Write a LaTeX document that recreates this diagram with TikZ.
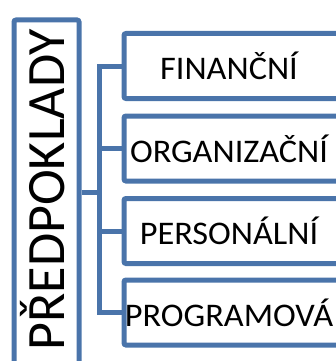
\documentclass[tikz,border=0pt]{standalone}
\usepackage{fontspec}
\setmainfont{Carlito}
\usepackage{graphicx}
\definecolor{boxblue}{RGB}{74,116,170}
\begin{document}
\begin{tikzpicture}[x=1pt,y=-1pt,
  frame/.style={draw=boxblue, line width=5pt, fill=white, rounded corners=2pt, inner sep=0pt},
  item/.style={frame, minimum width=217pt, minimum height=65pt, anchor=west},
  itemtext/.style={font=\fontsize{33}{33}\selectfont, text=black, inner sep=0pt},
  conn/.style={draw=boxblue, line width=5pt}]
\useasboundingbox (0,0) rectangle (335,361);
% big box
\node[frame, minimum width=65pt, minimum height=360pt, anchor=north west] (pred) at (11.5,17.5) {};
\node[rotate=90, font=\fontsize{54}{54}\selectfont, inner sep=0pt] (predtext) at (43,190) {PŘEDPOKLADY};
% items
\node[item] (fin) at (121.5,66) {};
\node[item] (org) at (121.5,148.5) {};
\node[item] (per) at (121.5,231) {};
\node[item] (prog) at (121.5,312.5) {};
\node[itemtext] (fint) at (229,66) {\scalebox{1.04}[1]{FINANČNÍ}};
\node[itemtext] (orgt) at (229,148.5) {\scalebox{1.04}[1]{ORGANIZAČNÍ}};
\node[itemtext] (pert) at (229,231) {\scalebox{1.04}[1]{PERSONÁLNÍ}};
\node[itemtext] (progt) at (229,312.5) {\scalebox{1.04}[1]{PROGRAMOVÁ}};
% connectors
\coordinate (j) at (99.5,192);
\draw[conn] (pred.east |- j) -- (j);
\draw[conn, line cap=rect] (j |- fin.west) -- (j |- prog.west);
\draw[conn] (j |- fin.west) -- (fin.west);
\draw[conn] (j |- org.west) -- (org.west);
\draw[conn] (j |- per.west) -- (per.west);
\draw[conn] (j |- prog.west) -- (prog.west);
\end{tikzpicture}
\end{document}
